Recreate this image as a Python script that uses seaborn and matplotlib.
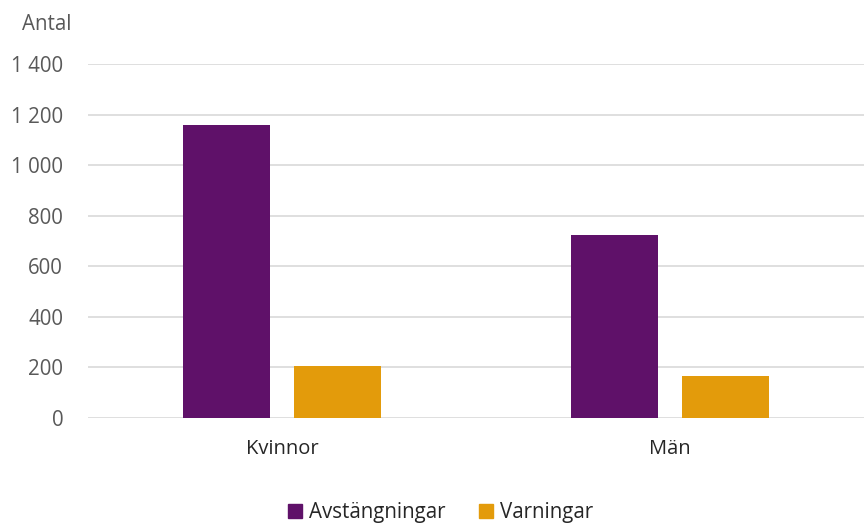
import pandas as pd
import matplotlib
matplotlib.use("Agg")
import matplotlib.pyplot as plt
import seaborn as sns

# Data
kon = ["Kvinnor", "Män"]
avstangningar = [1158, 725]
varningar = [207, 167]
serier = ["Avstängningar", "Varningar"]
farger = ["#5F1169", "#E39B0B"]
y_ticks = [0, 200, 400, 600, 800, 1000, 1200, 1400]

df = pd.DataFrame({
    "Kön": kon * 2,
    "Serie": [serier[0]] * len(kon) + [serier[1]] * len(kon),
    "Antal": avstangningar + varningar,
})

sns.set_theme(style="white")
plt.rcParams["font.family"] = ["Open Sans", "DejaVu Sans"]

fig = plt.figure(figsize=(8.64, 5.25), dpi=100)
ax = fig.add_axes([0.102, 0.204, 0.898, 0.674])

sns.barplot(data=df, x="Kön", y="Antal", hue="Serie", palette=farger,
            width=0.572, gap=0.22, ax=ax, legend=False, saturation=1,
            linewidth=0)

ax.set_xlim(-0.5, 1.5)
ax.set_ylim(0, 1400)
ax.set_yticks(y_ticks)
ax.set_yticklabels([f"{v:,}".replace(",", " ") for v in y_ticks])
ax.yaxis.grid(True, color="#D9D9D9", linewidth=1.2)
ax.set_axisbelow(True)
for s in ["top", "right", "left", "bottom"]:
    ax.spines[s].set_visible(False)
ax.tick_params(axis="y", length=0, pad=18, labelsize=14.8, labelcolor="#595959")
ax.tick_params(axis="x", length=0, pad=15, labelsize=14.5, labelcolor="#262626")
ax.set_xlabel("")
ax.set_ylabel("")

fig.text(0.025, 0.953, "Antal", fontsize=14.8, color="#595959", va="center", ha="left")

handles = [plt.Rectangle((0, 0), 1, 1, color=c) for c in farger]
fig.legend(handles, serier, loc="lower center", bbox_to_anchor=(0.51, -0.032),
           ncol=2, frameon=False, fontsize=14.8, handlelength=0.7, handleheight=0.7,
           handletextpad=0.35, columnspacing=1.6, labelcolor="#262626")

fig.savefig("out.png", dpi=100)
